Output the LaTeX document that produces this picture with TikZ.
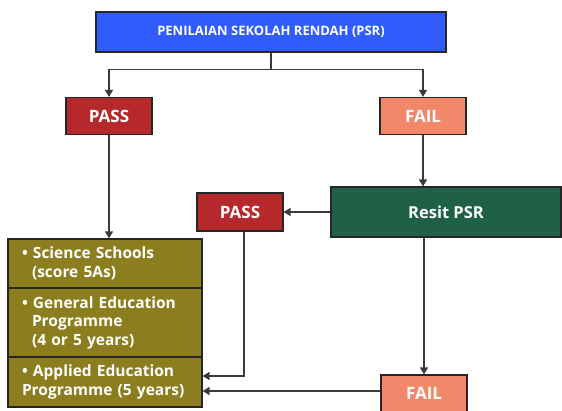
\documentclass[tikz,border=0pt]{standalone}
\usepackage{fontspec}
\setmainfont{Open Sans}
\usepackage{xcolor}
\usetikzlibrary{shapes.geometric, arrows.meta, positioning, calc}
\definecolor{psrblue}{HTML}{2F5CFA}
\definecolor{passred}{HTML}{B5282B}
\definecolor{failpink}{HTML}{F2876A}
\definecolor{resitgreen}{HTML}{1F6146}
\definecolor{optolive}{HTML}{8C7D1E}
\definecolor{linegray}{HTML}{3A3A3A}
\tikzstyle{box} = [rectangle, draw=black!85, line width=1.2pt, text=white, text centered]
\tikzstyle{pass} = [box, minimum width=86pt, minimum height=37pt, fill=passred, font=\bfseries\fontsize{17}{18}\selectfont]
\tikzstyle{fail} = [pass, fill=failpink]
\tikzstyle{option} = [box, minimum width=194pt, text width=166pt, align=left, fill=optolive, font=\bfseries\fontsize{15.5}{18.5}\selectfont]
\tikzstyle{line} = [line width=1.3pt, draw=linegray]
\tikzstyle{arrow} = [line, -{Triangle[width=8pt,length=7pt]}]

\begin{document}
\begin{tikzpicture}[x=1pt, y=1pt, node distance=84pt]
\useasboundingbox (0,0) rectangle (562,410);

\node (psr) [box, minimum width=350pt, minimum height=40pt, fill=psrblue, font=\bfseries\fontsize{13}{14}\selectfont] at (271,378) {PENILAIAN SEKOLAH RENDAH (PSR)};
\node (pass1) [pass, below of=psr, xshift=-162pt] {PASS};
\node (fail1) [fail, below of=psr, xshift=152pt] {FAIL};
\node (resit) [box, below of=fail1, xshift=23pt, yshift=-12pt, minimum width=230pt, minimum height=50pt, fill=resitgreen, font=\bfseries\fontsize{16.5}{18}\selectfont] {Resit PSR};
\node (pass2) [pass, left of=resit, xshift=-122pt, minimum height=38pt] {PASS};
\node (fail2) [fail, below of=resit, xshift=-22pt, yshift=-97.5pt] {FAIL};

\node (opt1) [option, below of=pass1, xshift=-4pt, yshift=-63.5pt, minimum height=49pt] {• Science Schools\\\hspace*{10pt}(score 5As)};
\node (opt2) [option, below of=opt1, yshift=25pt, minimum height=69pt] {• General Education\\\hspace*{10pt}Programme\\\hspace*{10pt}(4 or 5 years)};
\node (opt3) [option, below of=opt2, yshift=24.5pt, minimum height=50pt] {• Applied Education\\Programme (5 years)};

\draw [line] (psr.south) -- ++(0,-17) coordinate (split);
\draw [arrow] (split) -| (pass1.north);
\draw [arrow] (split) -| (fail1.north);
\draw [arrow] (pass1.south) -- (pass1.south |- opt1.north);
\draw [arrow] (fail1.south) -- (fail1.south |- resit.north);
\draw [arrow] (resit) -- (pass2);
\draw [arrow] ($(pass2.south)+(4,0)$) |- ($(opt3.east)+(0,6)$);
\draw [arrow] (fail2.north |- resit.south) -- (fail2.north);
\draw [arrow] ($(fail2.west)+(0,2.5)$) -- ($(opt3.east)+(0,-9)$);

\end{tikzpicture}
\end{document}
